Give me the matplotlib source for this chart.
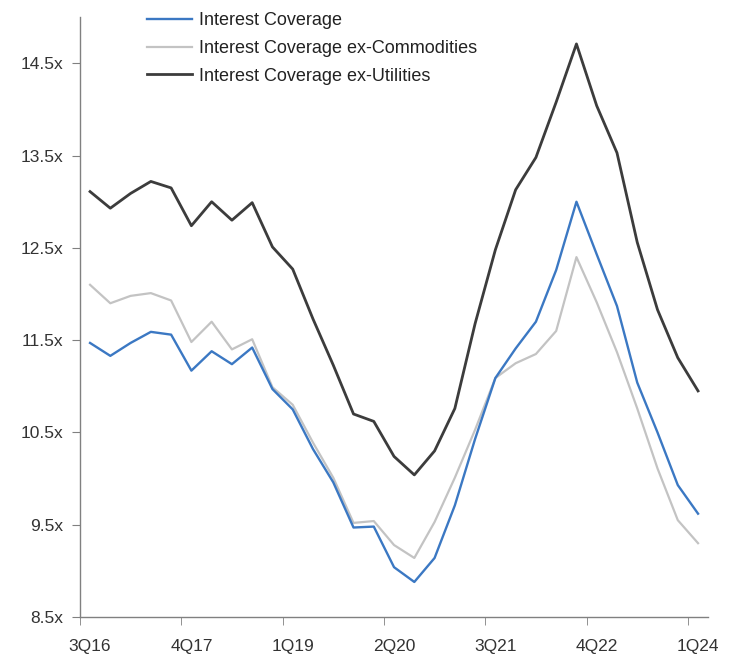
import matplotlib
matplotlib.use('Agg')
import matplotlib.pyplot as plt
from matplotlib.ticker import FixedLocator, FuncFormatter

plt.rcParams['font.family'] = ['Liberation Sans', 'DejaVu Sans']

quarters = ['3Q16', '4Q16', '1Q17', '2Q17', '3Q17', '4Q17', '1Q18', '2Q18', '3Q18', '4Q18',
            '1Q19', '2Q19', '3Q19', '4Q19', '1Q20', '2Q20', '3Q20', '4Q20', '1Q21', '2Q21',
            '3Q21', '4Q21', '1Q22', '2Q22', '3Q22', '4Q22', '1Q23', '2Q23', '3Q23', '4Q23',
            '1Q24']

coverage = [11.47, 11.33, 11.47, 11.59, 11.56, 11.17, 11.38, 11.24, 11.42, 10.97,
            10.75, 10.32, 9.96, 9.47, 9.48, 9.04, 8.88, 9.14, 9.71, 10.43,
            11.09, 11.41, 11.70, 12.26, 13.00, 12.43, 11.87, 11.04, 10.50, 9.93,
            9.62]
ex_commodities = [12.10, 11.90, 11.98, 12.01, 11.93, 11.48, 11.70, 11.40, 11.51, 10.99,
                  10.80, 10.39, 10.01, 9.52, 9.54, 9.28, 9.14, 9.53, 10.01, 10.53,
                  11.09, 11.25, 11.35, 11.60, 12.40, 11.91, 11.37, 10.76, 10.11, 9.55,
                  9.30]
ex_utilities = [13.11, 12.93, 13.09, 13.22, 13.15, 12.74, 13.00, 12.80, 12.99, 12.51,
                12.27, 11.73, 11.23, 10.70, 10.62, 10.24, 10.04, 10.30, 10.76, 11.68,
                12.48, 13.13, 13.48, 14.08, 14.71, 14.04, 13.53, 12.56, 11.83, 11.31,
                10.95]

y_ticks = [8.5, 9.5, 10.5, 11.5, 12.5, 13.5, 14.5]
label_every = 5

fig = plt.figure(figsize=(7.4, 6.68), dpi=100)
ax = fig.add_axes([0.108, 0.0763, 0.849, 0.898])

x = list(range(len(quarters)))
ax.plot(x, coverage, color='#3b78c3', lw=1.7, label='Interest Coverage', zorder=3)
ax.plot(x, ex_commodities, color='#c3c3c3', lw=1.6, label='Interest Coverage ex-Commodities', zorder=2)
ax.plot(x, ex_utilities, color='#3c3c3c', lw=2.0, label='Interest Coverage ex-Utilities', zorder=4)

ax.set_xlim(-0.5, len(quarters) - 0.5)
ax.set_ylim(8.5, 15.0)

# labels in the middle of the quarter, tick marks on the boundaries
major = x[::label_every]
ax.xaxis.set_major_locator(FixedLocator(major))
ax.set_xticklabels([quarters[i] for i in major])
ax.xaxis.set_minor_locator(FixedLocator([i - 0.5 for i in major]))
ax.tick_params(axis='x', which='major', length=0, pad=16, labelsize=12.5, labelcolor='#333333')
ax.tick_params(axis='x', which='minor', length=6, direction='out', color='#808080')

ax.yaxis.set_major_locator(FixedLocator(y_ticks))
ax.yaxis.set_major_formatter(FuncFormatter(lambda v, p: f'{v:.1f}x'))
ax.tick_params(axis='y', length=6, direction='out', color='#808080', pad=6,
               labelsize=12.5, labelcolor='#333333')

for s in ['top', 'right']:
    ax.spines[s].set_visible(False)
for s in ['left', 'bottom']:
    ax.spines[s].set_color('#808080')
    ax.spines[s].set_linewidth(1.0)

leg = ax.legend(loc='upper left', bbox_to_anchor=(0.198, 0.982), bbox_transform=fig.transFigure,
                frameon=False, fontsize=13, handlelength=2.5, handletextpad=0.4,
                labelspacing=0.6, borderpad=0, borderaxespad=0)
for t in leg.get_texts():
    t.set_color('#222222')

fig.savefig('out.png', dpi=100)
